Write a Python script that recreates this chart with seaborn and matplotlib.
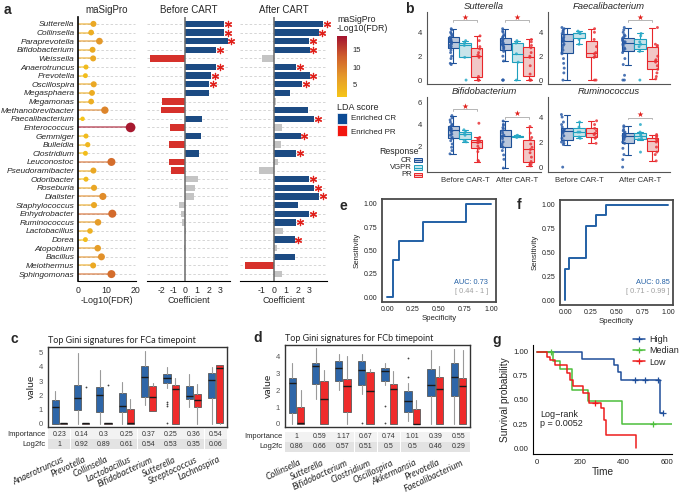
import numpy as np
import pandas as pd
import matplotlib
matplotlib.use("Agg")
import matplotlib.pyplot as plt
import seaborn as sns
from matplotlib.colors import LinearSegmentedColormap, Normalize
from matplotlib.patches import Rectangle
from matplotlib.lines import Line2D
from matplotlib.cm import ScalarMappable

W, H = 685, 495

# ---------------- panel a data ----------------
genera_a = ["Sutterella", "Collinsella", "Paraprevotella", "Bifidobacterium", "Weissella",
            "Anaerotruncus", "Prevotella", "Oscillospira", "Megasphaera", "Megamonas",
            "Methanobrevibacter", "Faecalibacterium", "Enterococcus", "Gemmiger", "Bulleidia",
            "Clostridium", "Leuconostoc", "Pseudoramibacter", "Odoribacter", "Roseburia",
            "Dialister", "Staphylococcus", "Enhydrobacter", "Ruminococcus", "Lactobacillus",
            "Dorea", "Atopobium", "Bacillus", "Meiothermus", "Sphingomonas"]
masigpro_fdr = [5.4, 4.6, 7.5, 5.1, 5.3, 2.8, 2.6, 5.5, 4.9, 4.6,
                9.4, 1.6, 18.4, 2.8, 3.4, 2.6, 11.7, 5.4, 2.8, 5.6,
                8.7, 5.6, 12.0, 7.0, 4.2, 2.6, 6.9, 8.2, 5.3, 11.7]
coef_before = [3.3, 3.3, 3.6, 2.6, -3.0, 2.6, 2.2, 2.0, 2.0, -2.0,
               -2.1, 1.4, -1.3, 1.35, -1.35, 1.2, -1.4, -1.2, 1.05, 0.8,
               0.75, -0.5, -0.4, -0.25, 0.1, 0.02, -0.08, 0.0, 0.0, 0.0]
class_before = ["CR", "CR", "CR", "CR", "PR", "CR", "CR", "CR", "CR", "PR",
                "PR", "CR", "PR", "CR", "PR", "CR", "PR", "PR", "NS", "NS",
                "NS", "NS", "NS", "NS", "NS", "NS", "NS", "NS", "NS", "NS"]
star_before = [1, 1, 1, 1, 0, 1, 1, 1, 0, 0, 0, 0, 0, 0, 0,
               0, 0, 0, 0, 0, 0, 0, 0, 0, 0, 0, 0, 0, 0, 0]
coef_after = [4.1, 3.75, 2.95, 3.0, -1.0, 1.85, 3.0, 2.35, 1.4, 0.2,
              2.9, 3.4, 0.7, 2.25, 0.6, 1.9, 0.4, -1.2, 2.95, 3.35,
              3.8, 2.0, 2.95, 1.9, 0.8, 1.75, 0.25, 1.8, -2.35, 0.7]
class_after = ["CR", "CR", "CR", "CR", "NS", "CR", "CR", "CR", "CR", "NS",
               "CR", "CR", "NS", "CR", "NS", "CR", "NS", "NS", "CR", "CR",
               "CR", "CR", "CR", "CR", "NS", "CR", "NS", "CR", "PR", "NS"]
star_after = [1, 1, 1, 1, 0, 1, 1, 1, 0, 0, 0, 1, 0, 1, 0,
              1, 0, 0, 1, 1, 1, 0, 1, 1, 0, 1, 0, 0, 0, 0]

# ---------------- panel b data ----------------
time_order = ["Before CAR-T", "After CAR-T"]
resp_order = ["CR", "VGPR", "PR"]
sutt_before_cr = [4.3, 4.2, 4.0, 3.9, 3.8, 3.7, 3.6, 3.5, 3.5, 3.4, 3.3, 3.3, 3.2, 3.2, 3.1,
                  3.0, 2.9, 2.8, 2.7, 2.5, 2.3, 2.0, 1.8, 1.4, 1.3]
sutt_before_vgpr = [3.3, 3.1, 2.9, 1.9, 0.0]
sutt_before_pr = [3.7, 3.3, 2.8, 2.6, 2.3, 2.1, 2.0, 1.9, 0.3, 0.0, 0.0, 0.0]
sutt_after_cr = [4.3, 4.1, 4.0, 3.8, 3.7, 3.6, 3.5, 3.4, 3.3, 3.2, 3.1, 3.0, 3.0, 2.9, 2.8,
                 2.7, 2.6, 2.4, 2.0, 1.6, 0.0, 0.0, 0.0]
sutt_after_vgpr = [3.3, 3.1, 2.2, 1.5, 0.0]
sutt_after_pr = [3.4, 3.2, 2.9, 2.7, 2.3, 2.0, 1.9, 1.2, 0.5, 0.0, 0.0, 0.0]

faec_before_cr = [4.4, 4.3, 4.2, 4.1, 4.0, 3.9, 3.8, 3.6, 3.5, 3.4, 3.3, 3.3, 3.2, 3.0, 2.9,
                  2.7, 2.5, 2.3, 2.2, 1.8, 1.4, 1.0, 0.6, 0.0]
faec_before_vgpr = [4.1, 4.0, 3.9, 3.9, 3.4, 3.0]
faec_before_pr = [4.3, 4.0, 3.4, 2.8, 2.3, 2.2, 2.0, 1.9, 0.0, 0.0]
faec_after_cr = [4.4, 4.2, 4.0, 3.8, 3.7, 3.6, 3.5, 3.4, 3.3, 3.2, 3.2, 3.1, 3.0, 2.9, 2.7,
                 2.6, 2.5, 2.3, 1.8, 1.3, 0.4, 0.0, 0.0]
faec_after_vgpr = [3.9, 3.7, 3.2, 3.0, 2.8, 2.4, 0.0]
faec_after_pr = [4.4, 3.0, 2.9, 2.8, 2.0, 1.7, 1.6, 1.5, 1.2, 0.9, 0.6, 0.3, 0.1]

bifi_before_cr = [4.8, 4.6, 4.4, 4.2, 4.0, 3.9, 3.8, 3.7, 3.6, 3.6, 3.5, 3.4, 3.3, 3.1, 3.0,
                  2.8, 2.7, 2.5, 2.2, 1.9, 1.6, 1.3]
bifi_before_vgpr = [3.5, 3.3, 3.2, 3.0, 2.5, 2.4]
bifi_before_pr = [4.1, 2.8, 2.7, 2.6, 2.5, 2.4, 2.4, 2.3, 2.0, 1.8, 1.5, 0.7, 0.6]
bifi_after_cr = [4.3, 4.0, 3.9, 3.7, 3.6, 3.4, 3.2, 3.0, 2.9, 2.9, 2.7, 2.4, 2.2, 2.0, 1.9,
                 1.6, 1.2, 0.8, 0.0]
bifi_after_vgpr = [3.0, 2.95, 2.9, 2.85, 2.8, 2.9]
bifi_after_pr = [3.8, 3.2, 2.8, 2.6, 2.2, 1.9, 1.7, 1.4, 1.0, 0.6, 0.4, 0.3, 0.2]

rumi_before_cr = [4.2, 4.0, 3.6, 3.4, 3.2, 3.0, 3.0, 2.9, 2.9, 2.8, 2.7, 2.5, 2.3, 2.1, 2.0,
                  1.9, 1.8, 0.0]
rumi_before_vgpr = [3.6, 3.2, 2.8, 2.8, 2.4, 2.3]
rumi_before_pr = [3.7, 3.4, 3.1, 2.9, 2.7, 2.6, 2.4, 2.3, 1.9]
rumi_after_cr = [3.3, 3.2, 3.0, 2.9, 2.8, 2.7, 2.6, 2.6, 2.5, 2.5, 2.4, 2.3, 2.2, 2.0, 1.9,
                 1.5, 1.0, 0.6, 0.0]
rumi_after_vgpr = [3.4, 2.8, 2.6, 2.5, 2.3, 2.2, 1.2]
rumi_after_pr = [2.6, 2.5, 2.4, 2.2, 2.1, 2.0, 1.6, 1.2, 1.0, 0.5]

# ---------------- panel c / d data ([whislo, q1, med, q3, whishi]) ----------------
c_genera = ["Anaerotruncus", "Prevotella", "Collinsella", "Lactobacillus",
            "Bifidobacterium", "Sutterella", "Streptococcus", "Lachnospira"]
c_cr_box = [[0, 0.0, 1.2, 1.67, 2.3], [0, 0.96, 1.83, 2.7, 4.95], [0, 0.8, 2.05, 2.6, 3.8],
            [0, 0.8, 1.25, 2.15, 2.95], [1.3, 1.9, 3.3, 4.05, 5.15], [2.5, 2.85, 3.25, 3.5, 4.0],
            [1.2, 1.75, 1.95, 2.65, 3.5], [0, 1.8, 3.05, 3.55, 4.0]]
c_pr_box = [[0, 0, 0.02, 0.05, 0.05], [0, 0, 0.02, 0.05, 0.05], [0, 0, 0.02, 0.05, 0.05],
            [0, 0, 0.05, 1.05, 1.75], [0.9, 0.9, 1.9, 2.65, 2.85], [0, 0, 2.45, 2.75, 3.2],
            [0, 1.2, 1.7, 2.1, 2.8], [0, 0.05, 3.9, 4.1, 4.15]]
c_cr_fliers = [[], [], [], [], [], [1.55, 1.4, 1.25, 0.05], [], []]
c_pr_fliers = [[], [2.55], [2.7], [], [], [], [], []]
c_importance = ["0.23", "0.14", "0.3", "0.25", "0.37", "0.25", "0.36", "0.54"]
c_log2fc = ["1", "0.92", "0.89", "0.61", "0.54", "0.53", "0.35", "0.06"]

d_genera = ["Collinsella", "Sutterella", "Bifidobacterium", "Clostridium",
            "Oscillospira", "Akkermansia", "Prevotella", "Faecalibacterium"]
d_cr_box = [[0, 0.64, 2.44, 2.74, 3.6], [1.5, 2.38, 3.43, 3.63, 4.53], [2.0, 2.53, 3.33, 3.77, 4.19],
            [1.8, 2.33, 3.23, 3.77, 4.19], [2.3, 2.53, 3.13, 3.33, 3.63], [0.2, 0.74, 1.34, 1.94, 2.44],
            [0, 1.64, 2.33, 3.27, 4.43], [0, 1.68, 2.77, 3.63, 4.47]]
d_pr_box = [[0, 0, 0.03, 1.04, 2.0], [0, 0, 1.48, 2.53, 3.23], [0, 0.74, 2.28, 2.68, 4.07],
            [0, 0, 1.98, 3.07, 3.27], [0, 0, 2.08, 2.38, 3.13], [0, 0, 0.02, 0.9, 1.4],
            [0, 0, 2.1, 2.8, 3.43], [0, 0, 2.24, 2.74, 4.43]]
d_cr_fliers = [[], [], [], [0.03], [1.08, 0.03], [3.9, 2.77], [], []]
d_pr_fliers = [[], [], [], [], [], [], [], []]
d_importance = ["1", "0.59", "1.17", "0.67", "0.74", "1.01", "0.39", "0.55"]
d_log2fc = ["0.86", "0.66", "0.57", "0.51", "0.5", "0.5", "0.46", "0.29"]

# ---------------- panel e / f data ----------------
e_spec = [0, 0.06, 0.06, 0.11, 0.11, 0.35, 0.35, 0.76, 0.76, 1.0]
e_sens = [0, 0, 0.4, 0.4, 0.6, 0.6, 0.8, 0.8, 1.0, 1.0]
f_spec = [0, 0, 0.04, 0.04, 0.2, 0.2, 0.3, 0.3, 0.4, 0.4, 1.0]
f_sens = [0, 0.33, 0.33, 0.44, 0.44, 0.78, 0.78, 0.89, 0.89, 1.0, 1.0]

# ---------------- panel g data ----------------
high_t = [0, 210, 355, 377, 388, 568, 583]
high_s = [1.0, 0.92, 0.86, 0.79, 0.71, 0.36, 0.36]
high_cens_t = [454, 500, 560, 583]
high_cens_s = [0.71, 0.71, 0.71, 0.36]
med_t = [0, 74, 108, 162, 238, 392, 623]
med_s = [1.0, 0.90, 0.82, 0.60, 0.49, 0.25, 0.25]
med_cens_t = [67, 539]
med_cens_s = [1.0, 0.25]
low_t = [0, 49, 62, 85, 140, 155, 165, 215, 240, 295, 310, 318, 457]
low_s = [1.0, 0.95, 0.91, 0.86, 0.78, 0.71, 0.64, 0.57, 0.47, 0.42, 0.29, 0.14, 0.0]
low_cens_t = [270]
low_cens_s = [0.47]

# ---------------- style ----------------
sns.set_theme(style="white")
plt.rcParams['font.family'] = ['Liberation Sans', 'DejaVu Sans']
plt.rcParams['axes.unicode_minus'] = False
plt.rcParams['axes.linewidth'] = 0.8

BLUE = "#0B4A94"
RED = "#F2160F"
GREY = "#C4C4C4"
STAR = "#E0201B"
fdr_cmap = LinearSegmentedColormap.from_list("fdr", ["#F5C518", "#E59A2A", "#CF5E2C", "#A3122F"])
fdr_norm = Normalize(1.5, 19)

fig = plt.figure(figsize=(6.85, 4.95), dpi=100)


def add_ax(l, t, r, b):
    return fig.add_axes([l / W, 1 - b / H, (r - l) / W, (b - t) / H])


def ftext(x, y, s, **kw):
    fig.text(x / W, 1 - y / H, s, **kw)


def letter(x, y, s):
    ftext(x, y, s, fontsize=10, fontweight='bold', ha='center', va='center')


# ================= panel a =================
rows = np.arange(len(genera_a))
dash = (0, (3, 2.5))

ax_l = add_ax(78, 17, 136, 281)
ax_l.hlines(rows, 0, 20, colors='#CFCFCF', linestyles=dash, lw=0.6, zorder=0)
ax_l.hlines(rows, 0, masigpro_fdr, colors=fdr_cmap(fdr_norm(masigpro_fdr)), lw=1.3, alpha=0.6, zorder=1)
sns.scatterplot(x=masigpro_fdr, y=rows, hue=masigpro_fdr, palette=fdr_cmap, hue_norm=fdr_norm,
                size=masigpro_fdr, sizes=(10, 50), size_norm=(1.5, 19), legend=False,
                edgecolor='none', ax=ax_l, zorder=2)
ax_l.set_xlim(0, 20.3)
ax_l.set_ylim(29.8, -0.8)
ax_l.set_yticks(rows)
ax_l.set_yticklabels(genera_a, style='italic', fontsize=6.0)
ax_l.set_xticks([0, 10, 20])
ax_l.tick_params(axis='x', labelsize=6.3, length=2, pad=1.5)
ax_l.tick_params(axis='y', length=0, pad=2.5)
for s in ['top', 'right']:
    ax_l.spines[s].set_visible(False)
ax_l.spines['left'].set_linewidth(1.2)
ax_l.spines['left'].set_color('black')
ax_l.spines['bottom'].set_color('black')
ax_l.set_xlabel('-Log10(FDR)', fontsize=6.5, labelpad=1)
ax_l.set_ylabel('')
ax_l.set_title('maSigPro', fontsize=7, pad=3)

bar_pal = {"CR": BLUE, "PR": RED, "NS": GREY}


def coef_panel(l, r, xlim, coefs, classes, stars, title):
    ax = add_ax(l, 17, r, 281)
    ax.hlines(rows, xlim[0], xlim[1], colors='#CFCFCF', linestyles=dash, lw=0.6, zorder=0)
    df = pd.DataFrame({"genus": genera_a, "coef": coefs, "cls": classes})
    sns.barplot(data=df, x="coef", y="genus", hue="cls", hue_order=["CR", "PR", "NS"],
                palette=bar_pal, order=genera_a, dodge=False, width=0.74, orient='h',
                legend=False, linewidth=0, ax=ax, zorder=2)
    ax.axvline(0, color='#6A6A6A', lw=1.1, zorder=3)
    sx = [c + 0.32 for c, s in zip(coefs, stars) if s]
    sy = [i for i, s in enumerate(stars) if s]
    ax.scatter(sx, sy, marker=(6, 2, 0), s=20, color=STAR, lw=0.9, clip_on=False, zorder=4)
    ax.set_xlim(*xlim)
    ax.set_ylim(29.8, -0.8)
    ax.set_yticks([])
    ax.set_ylabel('')
    for s in ['top', 'right', 'left']:
        ax.spines[s].set_visible(False)
    ax.spines['bottom'].set_color('black')
    ax.tick_params(axis='x', labelsize=6.3, length=2, pad=1.5)
    ax.set_xlabel('Coefficient', fontsize=6.5, labelpad=1)
    ax.set_title(title, fontsize=7, pad=3)
    return ax


ax_bc = coef_panel(147, 230, (-3.25, 3.8), coef_before, class_before, star_before, 'Before CART')
ax_bc.set_xticks([-2, -1, 0, 1, 2, 3])
ax_ac = coef_panel(240, 327, (-2.8, 4.45), coef_after, class_after, star_after, 'After CART')
ax_ac.set_xticks([-1, 0, 1, 2, 3])

# colour bar and LDA legend
cax = add_ax(337, 36, 347, 97)
cb = fig.colorbar(ScalarMappable(norm=fdr_norm, cmap=fdr_cmap), cax=cax)
cb.set_ticks([5, 10, 15])
cb.outline.set_visible(False)
cax.tick_params(labelsize=5.5, length=2, color='white', pad=2)
ftext(337, 24, 'maSigPro\n-Log10(FDR)', fontsize=6.3, ha='left', va='center', linespacing=1.1)
ftext(337, 107, 'LDA score', fontsize=6.5, ha='left', va='center')
fig.patches.append(Rectangle((337 / W, 1 - 124 / H), 10 / W, 11 / H, transform=fig.transFigure,
                             facecolor=BLUE, edgecolor='white', lw=0.5))
fig.patches.append(Rectangle((337 / W, 1 - 136 / H), 10 / W, 11 / H, transform=fig.transFigure,
                             facecolor=RED, edgecolor='white', lw=0.5))
ftext(351, 119, 'Enriched CR', fontsize=5.8, ha='left', va='center')
ftext(351, 133, 'Enriched PR', fontsize=5.8, ha='left', va='center')

letter(7, 10, 'a')

# ================= panel b =================
resp_line = {"CR": "#1C4F96", "VGPR": "#1FA0BE", "PR": "#E8262A"}
resp_fill = {"CR": "#B4C6E0", "VGPR": "#C2E8F0", "PR": "#F8C0BF"}
resp_pt = {"CR": "#2C5DA8", "VGPR": "#2AABC8", "PR": "#E93237"}


def b_frame(bc, bv, bp, ac, av, ap):
    recs = []
    for t, groups in zip(time_order, [(bc, bv, bp), (ac, av, ap)]):
        for resp, vals in zip(resp_order, groups):
            recs += [(t, resp, v) for v in vals]
    return pd.DataFrame(recs, columns=["time", "resp", "value"])


def b_panel(l, t, r, b, title, df, xlim, ylim, yticks, width, show_x, brackets):
    ax = add_ax(l, t, r, b)
    for resp in resp_order:
        sub = df[df.resp == resp]
        sns.boxplot(data=sub, x="time", y="value", hue="resp", hue_order=resp_order,
                    order=time_order, palette=resp_fill, linecolor=resp_line[resp],
                    linewidth=0.8, width=width, gap=0.06, dodge=True, showfliers=False,
                    legend=False, ax=ax)
    sns.stripplot(data=df, x="time", y="value", hue="resp", hue_order=resp_order,
                  order=time_order, palette=resp_pt, dodge=True, jitter=0.07, size=2.1,
                  alpha=0.85, legend=False, ax=ax, zorder=5)
    off = width / 3
    for xi, yl, ys in brackets:
        x0, x1 = xi - off, xi + off
        ax.plot([x0, x0, x1, x1], [yl - 0.15, yl, yl, yl - 0.15], color='#AAAAAA', lw=0.6)
        ax.scatter([xi], [ys], marker='*', s=20, color=STAR, lw=0, zorder=6)
    ax.set_xlim(*xlim)
    ax.set_ylim(*ylim)
    ax.set_yticks(yticks)
    ax.set_xlabel('')
    ax.set_ylabel('')
    ax.set_title(title, fontsize=6.8, style='italic', pad=2)
    for s in ['top', 'right']:
        ax.spines[s].set_visible(False)
    for s in ['left', 'bottom']:
        ax.spines[s].set_color('#555555')
    ax.tick_params(axis='both', labelsize=5.6, length=2, pad=1.5, colors='#333333')
    if not show_x:
        ax.set_xticklabels([])
    return ax


np.random.seed(3)
df_sutt = b_frame(sutt_before_cr, sutt_before_vgpr, sutt_before_pr, sutt_after_cr, sutt_after_vgpr, sutt_after_pr)
df_faec = b_frame(faec_before_cr, faec_before_vgpr, faec_before_pr, faec_after_cr, faec_after_vgpr, faec_after_pr)
df_bifi = b_frame(bifi_before_cr, bifi_before_vgpr, bifi_before_pr, bifi_after_cr, bifi_after_vgpr, bifi_after_pr)
df_rumi = b_frame(rumi_before_cr, rumi_before_vgpr, rumi_before_pr, rumi_after_cr, rumi_after_vgpr, rumi_after_pr)

b_panel(427, 12, 541, 84, 'Sutterella', df_sutt, (-0.73, 1.46), (-0.33, 5.7), [0, 2, 4], 0.68, False,
        [(0, 5.0, 5.3), (1, 5.0, 5.3)])
b_panel(548, 12, 670, 84, 'Faecalibacterium', df_faec, (-0.51, 1.49), (-0.33, 5.7), [0, 2, 4], 0.6, False,
        [(1, 5.0, 5.3)])
b_panel(427, 97, 541, 172, 'Bifidobacterium', df_bifi, (-0.73, 1.46), (-0.36, 6.5), [0, 2, 4, 6], 0.68, True,
        [(0, 5.36, 5.7), (1, 4.64, 5.0)])
b_panel(548, 97, 670, 172, 'Ruminococcus', df_rumi, (-0.51, 1.49), (-0.39, 5.6), [0, 2, 4], 0.6, True,
        [(1, 3.96, 4.25)])

# response legend
ftext(399, 151, 'Response', fontsize=6.3, ha='center', va='center')
for k, (resp, yy) in enumerate(zip(resp_order, [160, 167.5, 175])):
    ftext(412, yy, resp, fontsize=5.6, ha='right', va='center')
    fig.patches.append(Rectangle((414 / W, 1 - (yy + 2.2) / H), 8 / W, 4.4 / H,
                                 transform=fig.transFigure, facecolor=resp_fill[resp],
                                 edgecolor=resp_line[resp], lw=0.7))
    fig.lines.append(Line2D([414 / W, 422 / W], [1 - yy / H, 1 - yy / H], transform=fig.transFigure,
                            color=resp_line[resp], lw=0.7))

letter(409, 9, 'b')


# ================= panels c / d =================
def gini_panel(l, t, r, b, genera, cr_box, pr_box, cr_fl, pr_fl, imp, lfc, ylim, yticks,
               title, tab_top, lab_top):
    n = len(genera)
    ax = add_ax(l, t, r, b)
    pos = np.arange(n)
    for boxes, fls, shift, col in [(cr_box, cr_fl, -0.18, "#2E66A8"), (pr_box, pr_fl, 0.18, "#EF2B2B")]:
        stats = [dict(whislo=s[0], q1=s[1], med=s[2], q3=s[3], whishi=s[4], fliers=f)
                 for s, f in zip(boxes, fls)]
        ax.bxp(stats, positions=pos + shift, widths=0.32, patch_artist=True, manage_ticks=False,
               boxprops=dict(facecolor=col, edgecolor='#5A5A5A', lw=0.6),
               medianprops=dict(color='#1A1A1A', lw=1.0),
               whiskerprops=dict(color='#9A9A9A', lw=0.8), capprops=dict(lw=0),
               flierprops=dict(marker='o', ms=1.3, mfc='#444444', mec='none'))
    ax.set_xlim(-0.5, n - 0.5)
    ax.set_ylim(*ylim)
    ax.set_xticks([])
    ax.set_yticks(yticks)
    ax.tick_params(axis='y', labelsize=5.5, colors='#555555', length=2, pad=1.5)
    for s in ax.spines.values():
        s.set_color('#333333')
        s.set_linewidth(1.0)
    ax.set_ylabel('value', fontsize=7.5, family='Lato', labelpad=2)
    ax.set_title(title, fontsize=6.5, family='Lato', pad=3, loc='left')

    tab = add_ax(l, tab_top, r, tab_top + 20)
    tab.set_xlim(-0.5, n - 0.5)
    tab.set_ylim(0, 2)
    tab.axis('off')
    for i in range(n):
        tab.add_patch(Rectangle((i - 0.49, 1.03), 0.98, 0.94, facecolor='#F2F2F2', lw=0))
        tab.add_patch(Rectangle((i - 0.49, 0.03), 0.98, 0.94, facecolor='#E3E3E3', lw=0))
        tab.text(i, 1.5, imp[i], fontsize=5, ha='center', va='center', color='#333333')
        tab.text(i, 0.5, lfc[i], fontsize=5, ha='center', va='center', color='#333333')
    tab.text(-0.62, 1.5, 'Importance', fontsize=5.5, ha='right', va='center')
    tab.text(-0.62, 0.5, 'Log2fc', fontsize=5.5, ha='right', va='center')
    for i, g in enumerate(genera):
        tab.text(i + 0.1, (tab_top + 20 - lab_top) / 10, g, fontsize=6.5, family='Lato', style='italic',
                 rotation=25, rotation_mode='anchor', ha='right', va='top')
    return ax


gini_panel(48, 347, 227, 427, c_genera, c_cr_box, c_pr_box, c_cr_fliers, c_pr_fliers,
           c_importance, c_log2fc, (-0.23, 5.4), [0, 1, 2, 3, 4, 5],
           'Top Gini signatures for FCa timepoint', 429, 455)
gini_panel(285, 345, 470, 427, d_genera, d_cr_box, d_pr_box, d_cr_fliers, d_pr_fliers,
           d_importance, d_log2fc, (-0.18, 4.7), [0, 1, 2, 3, 4],
           'Top Gini signatures for FCb timepoint', 432, 458)
letter(14, 339, 'c')
letter(258, 338, 'd')


# ================= panels e / f =================
def roc_panel(l, t, r, b, spec, sens, auc, ci, txt_x, txt_y):
    ax = add_ax(l, t, r, b)
    sns.lineplot(x=spec, y=sens, sort=False, estimator=None, color='#2360A5', lw=1.4, ax=ax)
    ax.set_xlim(-0.05, 1.05)
    ax.set_ylim(-0.05, 1.05)
    ticks = [0, 0.25, 0.5, 0.75, 1.0]
    ax.set_xticks(ticks)
    ax.set_yticks(ticks)
    ax.set_xticklabels([f"{v:.2f}" for v in ticks])
    ax.set_yticklabels([f"{v:.2f}" for v in ticks])
    ax.tick_params(labelsize=5, length=2, pad=1.2, colors='#222222')
    for s in ax.spines.values():
        s.set_color('#4A4A4A')
        s.set_linewidth(1.3)
    ax.set_xlabel('Specificity', fontsize=5.6, labelpad=1)
    ax.set_ylabel('Sensitivity', fontsize=5.6, labelpad=2)
    ax.text(txt_x, txt_y, auc, transform=ax.transAxes, ha='right', va='center', fontsize=5.3,
            color='#2360A5')
    ax.text(txt_x, txt_y - 0.085, ci, transform=ax.transAxes, ha='right', va='center',
            fontsize=5.3, color='#A0A0A0')
    return ax


roc_panel(382, 199, 496, 302, e_spec, e_sens, 'AUC: 0.73', '[ 0.44 - 1 ]', 0.93, 0.19)
roc_panel(560, 200, 673, 305, f_spec, f_sens, 'AUC: 0.85', '[ 0.71 - 0.99 ]', 0.97, 0.21)
letter(343, 206, 'e')
letter(519, 205, 'f')

# ================= panel g =================
ax_g = add_ax(533, 345, 672, 454)
km = [("High", high_t, high_s, high_cens_t, high_cens_s, "#1F4E9A"),
      ("Median", med_t, med_s, med_cens_t, med_cens_s, "#4DBF3C"),
      ("Low", low_t, low_s, low_cens_t, low_cens_s, "#EE1C1C")]
handles = []
for name, tt, ss, ct, cs, col in km:
    sns.lineplot(x=tt, y=ss, sort=False, estimator=None, drawstyle='steps-post', color=col,
                 lw=1.1, ax=ax_g)
    ax_g.plot(ct, cs, ls='', marker='+', ms=5, mew=0.9, color=col)
    handles.append(Line2D([], [], color=col, marker='+', ms=5, mew=0.9, lw=1.1, label=name))
ax_g.set_xlim(-18, 625)
ax_g.set_ylim(-0.06, 1.07)
ax_g.set_xticks([0, 200, 400, 600])
ax_g.set_yticks([0, 0.25, 0.5, 0.75, 1.0])
ax_g.set_yticklabels(["0.00", "0.25", "0.50", "0.75", "1.00"])
ax_g.tick_params(labelsize=5.6, length=2, pad=1.5, colors='#222222')
for s in ['top', 'right']:
    ax_g.spines[s].set_visible(False)
for s in ['left', 'bottom']:
    ax_g.spines[s].set_color('black')
ax_g.set_xlabel('Time', fontsize=7.3, labelpad=1)
ax_g.set_ylabel('Survival probability', fontsize=7.3, labelpad=2)
ax_g.text(540 / W, 1 - 419 / H, 'Log\u2212rank\np = 0.0052', transform=fig.transFigure, fontsize=6.5,
          ha='left', va='center', linespacing=1.0)
fig.legend(handles=handles, loc='upper left', bbox_to_anchor=(633 / W, 1 - 335 / H),
           frameon=False, fontsize=6.5, handlelength=1.3, handletextpad=0.5, labelspacing=0.25,
           borderaxespad=0, borderpad=0)
letter(497, 340, 'g')

fig.savefig("out.png", dpi=100)
